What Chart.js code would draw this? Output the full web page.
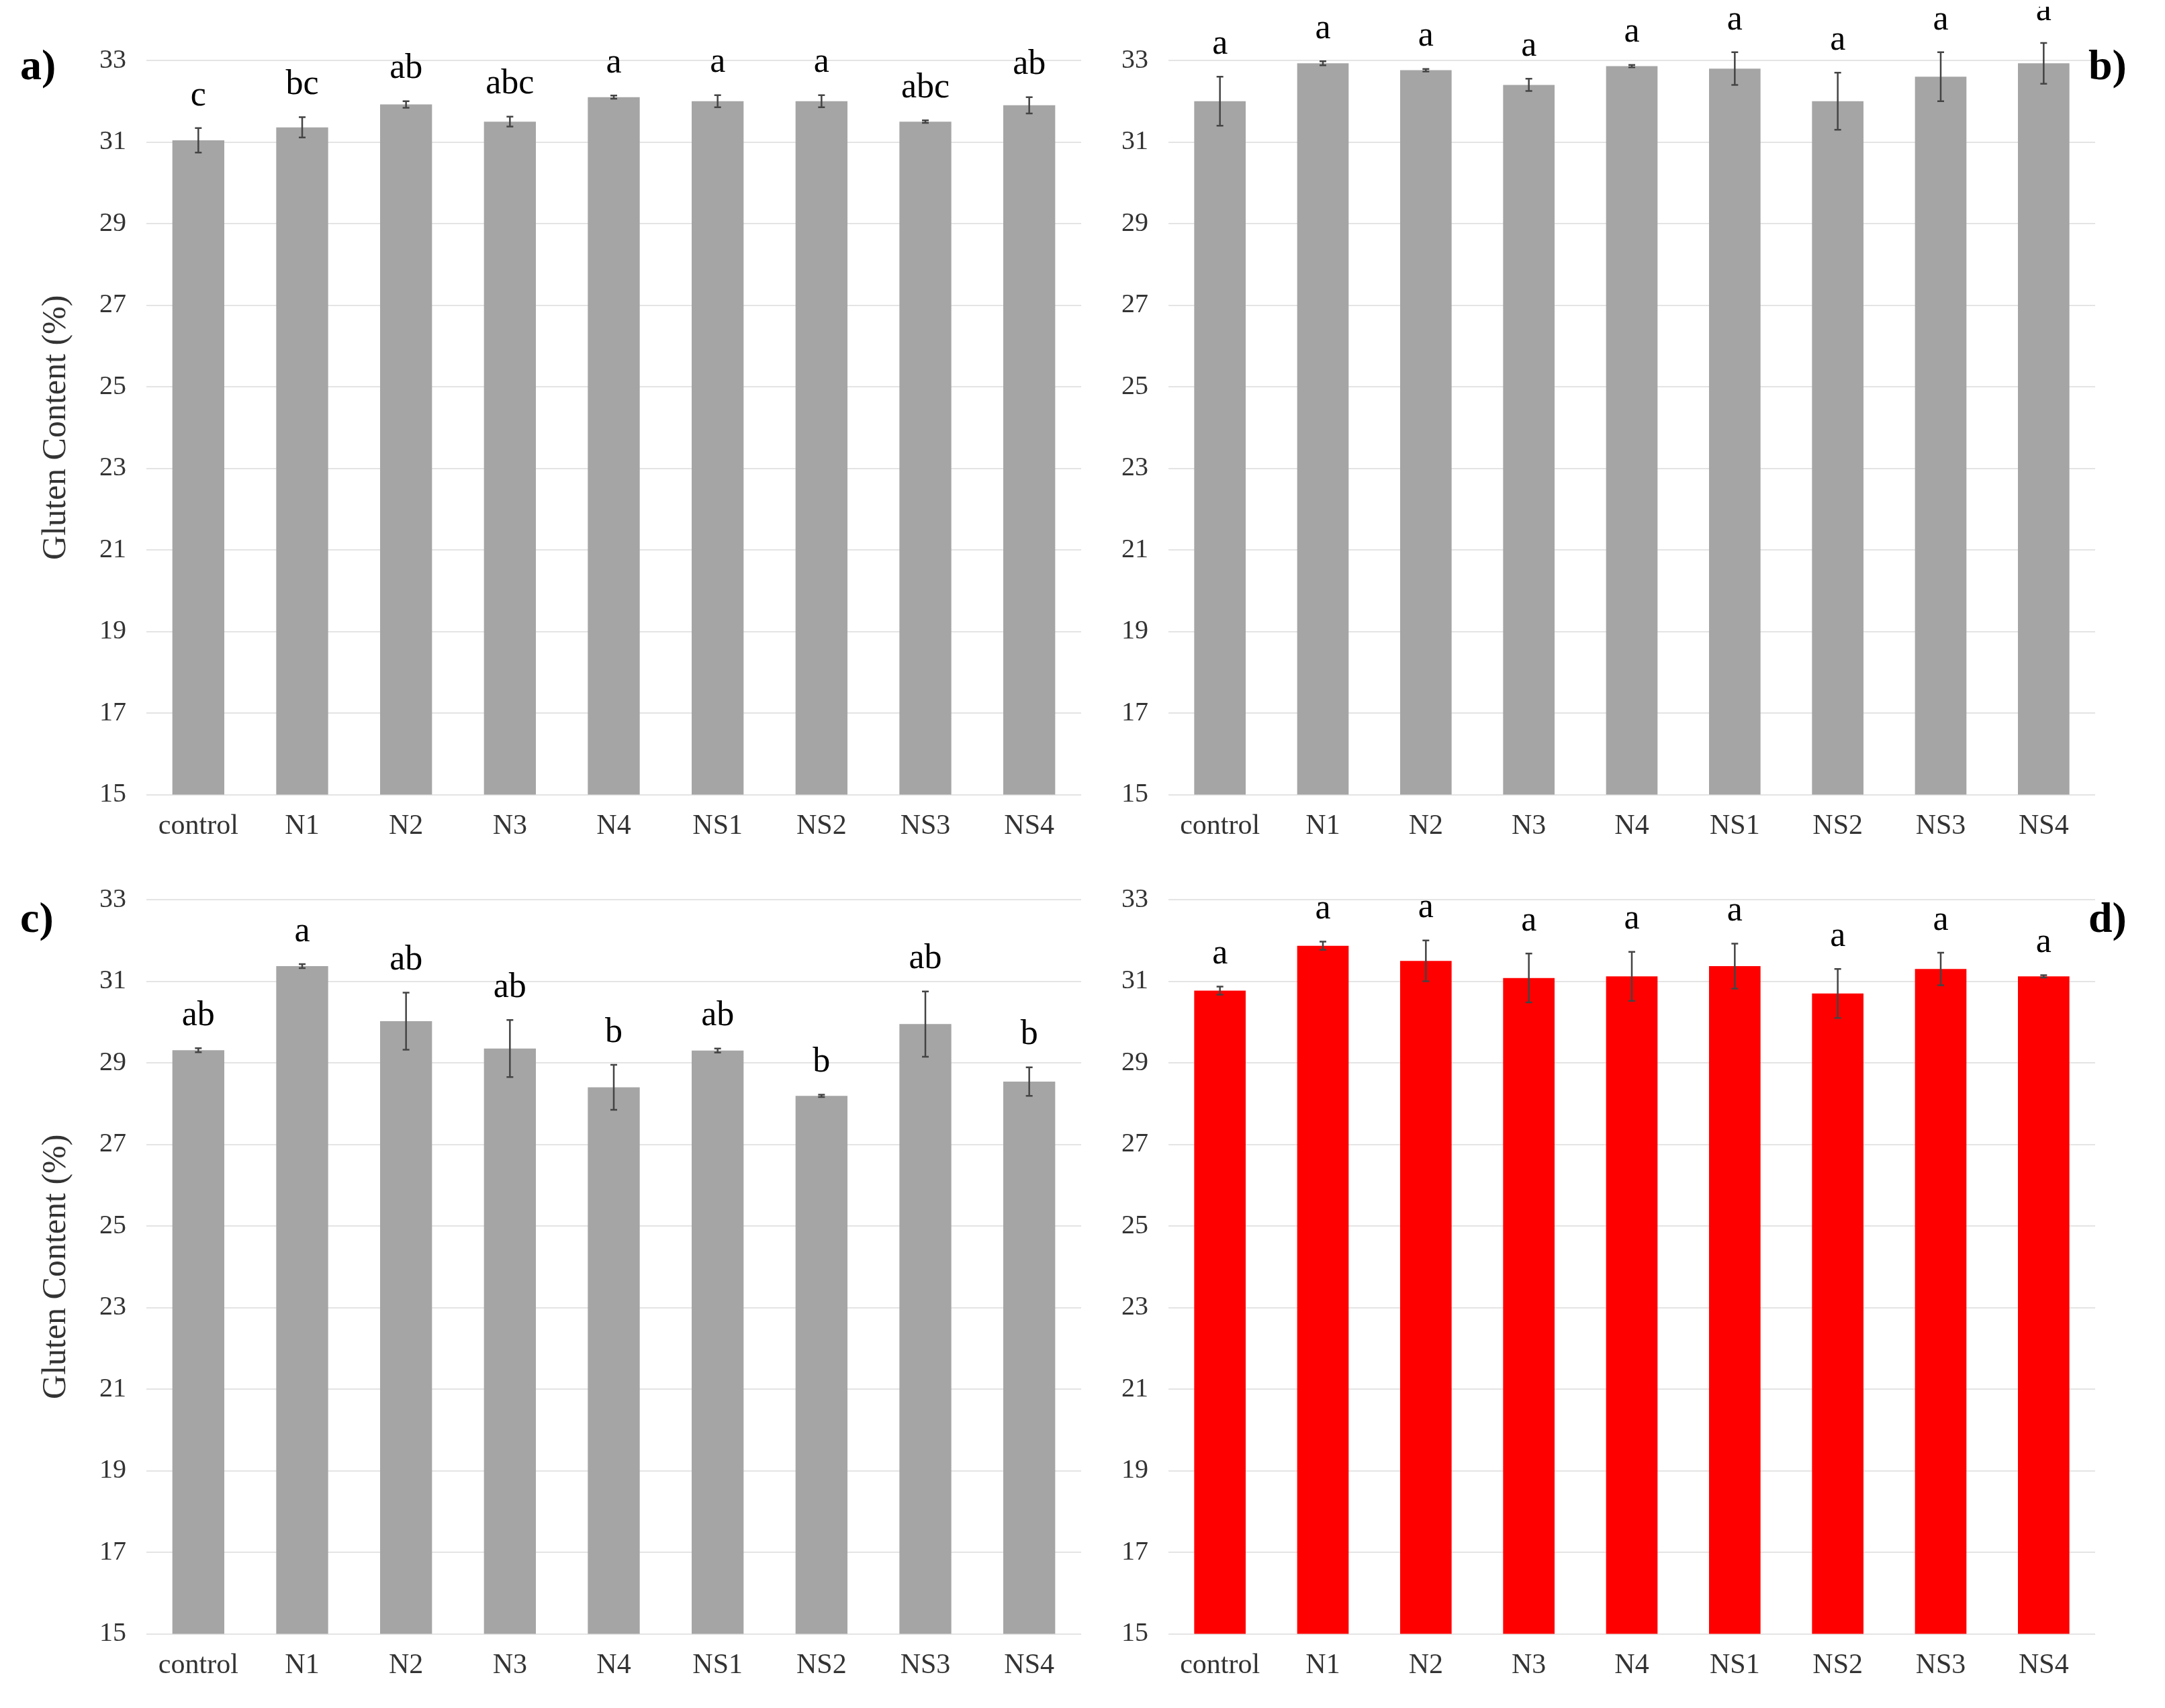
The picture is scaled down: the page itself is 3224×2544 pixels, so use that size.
<!DOCTYPE html>
<html>
<head>
<meta charset="utf-8">
<script src="https://cdn.jsdelivr.net/npm/chart.js@4/dist/chart.umd.min.js"></script>
<style>
  body { margin: 0; background: #fff; width: 3224px; height: 2544px; position: relative; overflow: hidden; }
  .panel { position: absolute; }
  .tag { position: absolute; font: bold 64px "Liberation Serif", serif; color: #000; }
</style>
</head>
<body>
<div class="panel" style="left:20px;top:10px;width:1600px;height:1260px"><canvas id="chartA"></canvas></div>
<div class="panel" style="left:1600px;top:10px;width:1560px;height:1260px"><canvas id="chartB"></canvas></div>
<div class="panel" style="left:20px;top:1260px;width:1600px;height:1260px"><canvas id="chartC"></canvas></div>
<div class="panel" style="left:1600px;top:1260px;width:1560px;height:1260px"><canvas id="chartD"></canvas></div>
<div class="tag" style="left:30px;top:60px">a)</div>
<div class="tag" style="left:3110px;top:60px">b)</div>
<div class="tag" style="left:30px;top:1330px">c)</div>
<div class="tag" style="left:3110px;top:1330px">d)</div>
<script>
const categories = ['control', 'N1', 'N2', 'N3', 'N4', 'NS1', 'NS2', 'NS3', 'NS4'];
const yTicks = [15, 17, 19, 21, 23, 25, 27, 29, 31, 33];

const valuesA = [31.04, 31.36, 31.92, 31.5, 32.1, 32.0, 32.0, 31.5, 31.9];
const errorsA = [0.3, 0.25, 0.08, 0.12, 0.04, 0.15, 0.15, 0.03, 0.2];
const lettersA = ['c', 'bc', 'ab', 'abc', 'a', 'a', 'a', 'abc', 'ab'];

const valuesB = [32.0, 32.93, 32.76, 32.4, 32.86, 32.8, 32.0, 32.6, 32.93];
const errorsB = [0.6, 0.05, 0.03, 0.15, 0.03, 0.4, 0.7, 0.6, 0.5];
const lettersB = ['a', 'a', 'a', 'a', 'a', 'a', 'a', 'a', 'a'];

const valuesC = [29.31, 31.37, 30.02, 29.35, 28.4, 29.3, 28.19, 29.95, 28.54];
const errorsC = [0.05, 0.05, 0.7, 0.7, 0.55, 0.05, 0.03, 0.8, 0.35];
const lettersC = ['ab', 'a', 'ab', 'ab', 'b', 'ab', 'b', 'ab', 'b'];

const valuesD = [30.77, 31.87, 31.5, 31.08, 31.12, 31.37, 30.7, 31.3, 31.12];
const errorsD = [0.1, 0.1, 0.5, 0.6, 0.6, 0.55, 0.6, 0.4, 0.03];
const lettersD = ['a', 'a', 'a', 'a', 'a', 'a', 'a', 'a', 'a'];

const serif = '"Liberation Serif", "DejaVu Serif", serif';

// error bars + significance letters
const annotatePlugin = {
  id: 'annotate',
  afterDatasetsDraw(chart, args, opts) {
    const ctx = chart.ctx;
    const y = chart.scales.y;
    const meta = chart.getDatasetMeta(0);
    ctx.save();
    meta.data.forEach((bar, i) => {
      const v = opts.values[i], e = opts.errors[i];
      const top = y.getPixelForValue(v + e);
      const bot = y.getPixelForValue(v - e);
      ctx.strokeStyle = '#444';
      ctx.lineWidth = 2.5;
      ctx.beginPath();
      ctx.moveTo(bar.x, top);
      ctx.lineTo(bar.x, bot);
      ctx.moveTo(bar.x - 5, top);
      ctx.lineTo(bar.x + 5, top);
      ctx.moveTo(bar.x - 5, bot);
      ctx.lineTo(bar.x + 5, bot);
      ctx.stroke();
      ctx.fillStyle = '#000';
      ctx.font = '52px ' + serif;
      ctx.textAlign = 'center';
      ctx.textBaseline = 'bottom';
      ctx.fillText(opts.letters[i], bar.x, top - 22);
    });
    ctx.restore();
  }
};

function makePanel(id, values, errors, letters, color, showTitle) {
  new Chart(document.getElementById(id), {
    type: 'bar',
    data: {
      labels: categories,
      datasets: [{ data: values, backgroundColor: color, barPercentage: 0.5, categoryPercentage: 1 }]
    },
    options: {
      responsive: true,
      maintainAspectRatio: false,
      animation: false,
      layout: { padding: { top: 80, right: showTitle ? 10 : 40, left: showTitle ? 30 : 40 } },
      plugins: {
        legend: { display: false },
        tooltip: { enabled: false },
        annotate: { values, errors, letters }
      },
      scales: {
        x: {
          grid: { display: false },
          border: { display: false },
          ticks: { color: '#333', font: { family: serif, size: 42 }, padding: 14 }
        },
        y: {
          min: 15,
          max: 33,
          afterBuildTicks: (s) => { s.ticks = yTicks.map(v => ({ value: v })); },
          grid: { color: '#e4e4e4', lineWidth: 2, drawTicks: false },
          border: { display: false },
          ticks: { color: '#333', font: { family: serif, size: 40 }, padding: 30 },
          title: {
            display: showTitle,
            text: 'Gluten Content (%)',
            color: '#333',
            font: { family: serif, size: 50 }
          }
        }
      }
    },
    plugins: [annotatePlugin]
  });
}

makePanel('chartA', valuesA, errorsA, lettersA, '#a5a5a5', true);
makePanel('chartB', valuesB, errorsB, lettersB, '#a5a5a5', false);
makePanel('chartC', valuesC, errorsC, lettersC, '#a5a5a5', true);
makePanel('chartD', valuesD, errorsD, lettersD, '#ff0000', false);
</script>
</body>
</html>
